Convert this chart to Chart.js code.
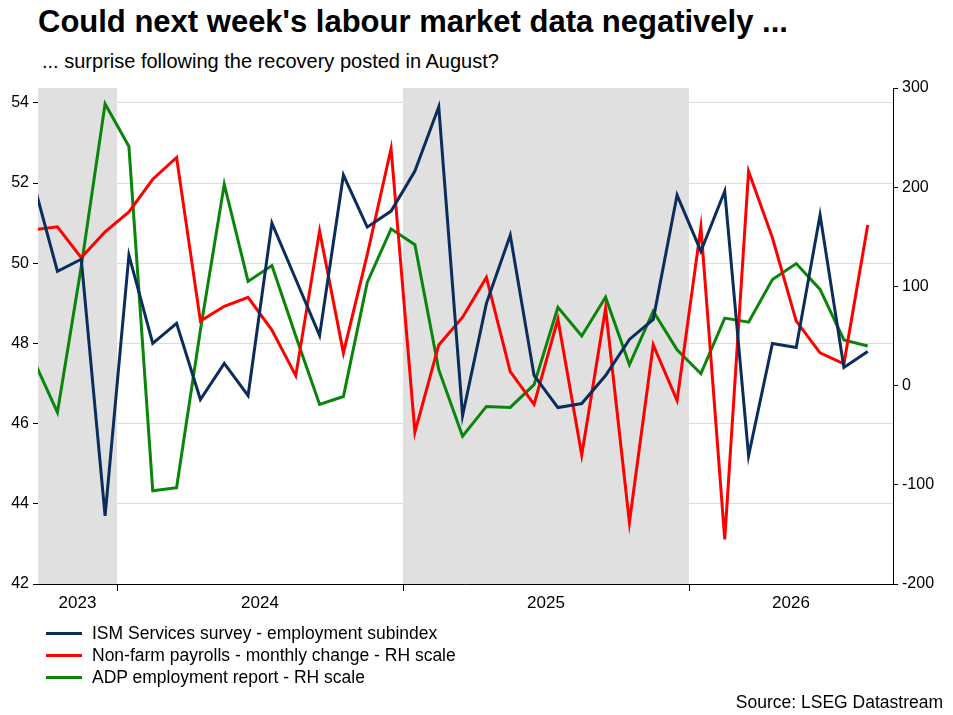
<!DOCTYPE html>
<html><head><meta charset="utf-8">
<script src="https://cdn.jsdelivr.net/npm/chart.js@4"></script>
<style>
body{margin:0;width:953px;height:715px;background:#fff;font-family:"Liberation Sans",Arial,sans-serif;position:relative;overflow:hidden}
#t{position:absolute;left:38px;top:4px;font-size:31px;font-weight:bold;color:#000}
#s{position:absolute;left:42px;top:50px;font-size:20px;color:#000}
#c{position:absolute;left:0;top:0}
#lg{position:absolute;left:46px;top:622px;font-size:17.5px;line-height:22px}
#lg div{display:flex;align-items:center}
#lg span{display:inline-block;width:36px;height:3px;margin-right:10px}
#src{position:absolute;right:10px;top:692px;font-size:17.5px}
</style></head><body>
<div id="t">Could next week's labour market data negatively ...</div>
<div id="s">... surprise following the recovery posted in August?</div>
<canvas id="c" width="953" height="715"></canvas>
<div id="lg">
<div><span style="background:#0b2d5b"></span>ISM Services survey - employment subindex</div>
<div><span style="background:#ff0000"></span>Non-farm payrolls - monthly change - RH scale</div>
<div><span style="background:#0a850a"></span>ADP employment report - RH scale</div>
</div>
<div id="src">Source: LSEG Datastream</div>
<script>
// months from Sep 2023 to Aug 2026 (x = months since Jan 2023, point at mid-month)
const months = Array.from({length:36},(_,i)=>8.5+i);
const ism = [52,49.8,50.1,43.7,50.2,48,48.5,46.6,47.5,46.7,51,49.6,48.2,52.2,50.9,51.3,52.3,53.9,46.2,49,50.7,47.2,46.4,46.5,47.2,48.1,48.6,51.7,50.3,51.8,45.2,48,47.9,51.2,47.4,47.8];
const nfp = [157,160,129,155,175,208,230,65,80,89,56,10,156,33,132,239,-47,41,69,109,14,-19,67,-70,78,-138,41,-15,160,-155,216,149,65,33,22,162];
const adp = [26,-27,120,284,241,-106,-103,56,203,105,121,50,-19,-11,104,158,142,16,-51,-21,-22,1,79,50,89,21,75,36,12,68,64,107,123,97,46,40];
const yearLabels = ["2023","2024","2025","2026"];
const yearBounds = [8.685,12,24,36,44.56];
const shaded = [[8.685,12],[24,36]];
const pts = a=>a.map((v,i)=>({x:months[i],y:v}));
const deco = {
 id:'deco',
 beforeDatasetsDraw(ch){
  const {ctx,chartArea:a,scales:{x}}=ch;
  ctx.save();ctx.fillStyle='#e0e0e0';
  shaded.forEach(([s,e])=>ctx.fillRect(x.getPixelForValue(s),a.top,x.getPixelForValue(e)-x.getPixelForValue(s),a.bottom-a.top));
  ctx.restore();
 },
 afterDraw(ch){
  const {ctx,chartArea:a,scales:{x}}=ch;
  ctx.save();ctx.strokeStyle='#000';ctx.lineWidth=1;
  ctx.beginPath();ctx.moveTo(a.left,a.bottom+0.5);ctx.lineTo(a.right,a.bottom+0.5);
  [12,24,36].forEach(v=>{const p=Math.round(x.getPixelForValue(v))+0.5;ctx.moveTo(p,a.bottom);ctx.lineTo(p,a.bottom+7);});
  ctx.stroke();
  ctx.fillStyle='#000';ctx.font='17px "Liberation Sans",Arial';ctx.textAlign='center';ctx.textBaseline='top';
  yearLabels.forEach((l,i)=>{const c=(x.getPixelForValue(yearBounds[i])+x.getPixelForValue(yearBounds[i+1]))/2;ctx.fillText(l,c,a.bottom+11);});
  ctx.restore();
 }
};
new Chart(document.getElementById('c'),{
 type:'line',
 data:{datasets:[
  {label:'ISM',data:pts(ism),borderColor:'#0b2d5b',yAxisID:'y',borderWidth:3,pointRadius:0,tension:0},
  {label:'NFP',data:pts(nfp),borderColor:'#ff0000',yAxisID:'y1',borderWidth:3,pointRadius:0,tension:0},
  {label:'ADP',data:pts(adp),borderColor:'#0a850a',yAxisID:'y1',borderWidth:3,pointRadius:0,tension:0}
 ]},
 options:{responsive:false,animation:false,
  layout:{padding:{top:88,bottom:131,left:0,right:0}},
  plugins:{legend:{display:false},tooltip:{enabled:false}},
  scales:{
   x:{type:'linear',min:8.685,max:44.56,display:false},
   y:{position:'left',min:42,max:54.37,afterFit:s=>{s.width=38},
      afterBuildTicks:s=>{s.ticks=[42,44,46,48,50,52,54].map(v=>({value:v}))},
      ticks:{color:'#000',font:{size:16,family:'"Liberation Sans",Arial'},padding:4},
      grid:{color:'#dcdcdc',tickColor:'#000',tickLength:5},border:{color:'#000'}},
   y1:{position:'right',min:-200,max:300,afterFit:s=>{s.width=60},
      ticks:{stepSize:100,color:'#000',font:{size:16,family:'"Liberation Sans",Arial'},padding:4},
      grid:{drawOnChartArea:false,tickColor:'#000',tickLength:5},border:{color:'#000'}}
  }},
 plugins:[deco]
});
</script>
</body></html>
